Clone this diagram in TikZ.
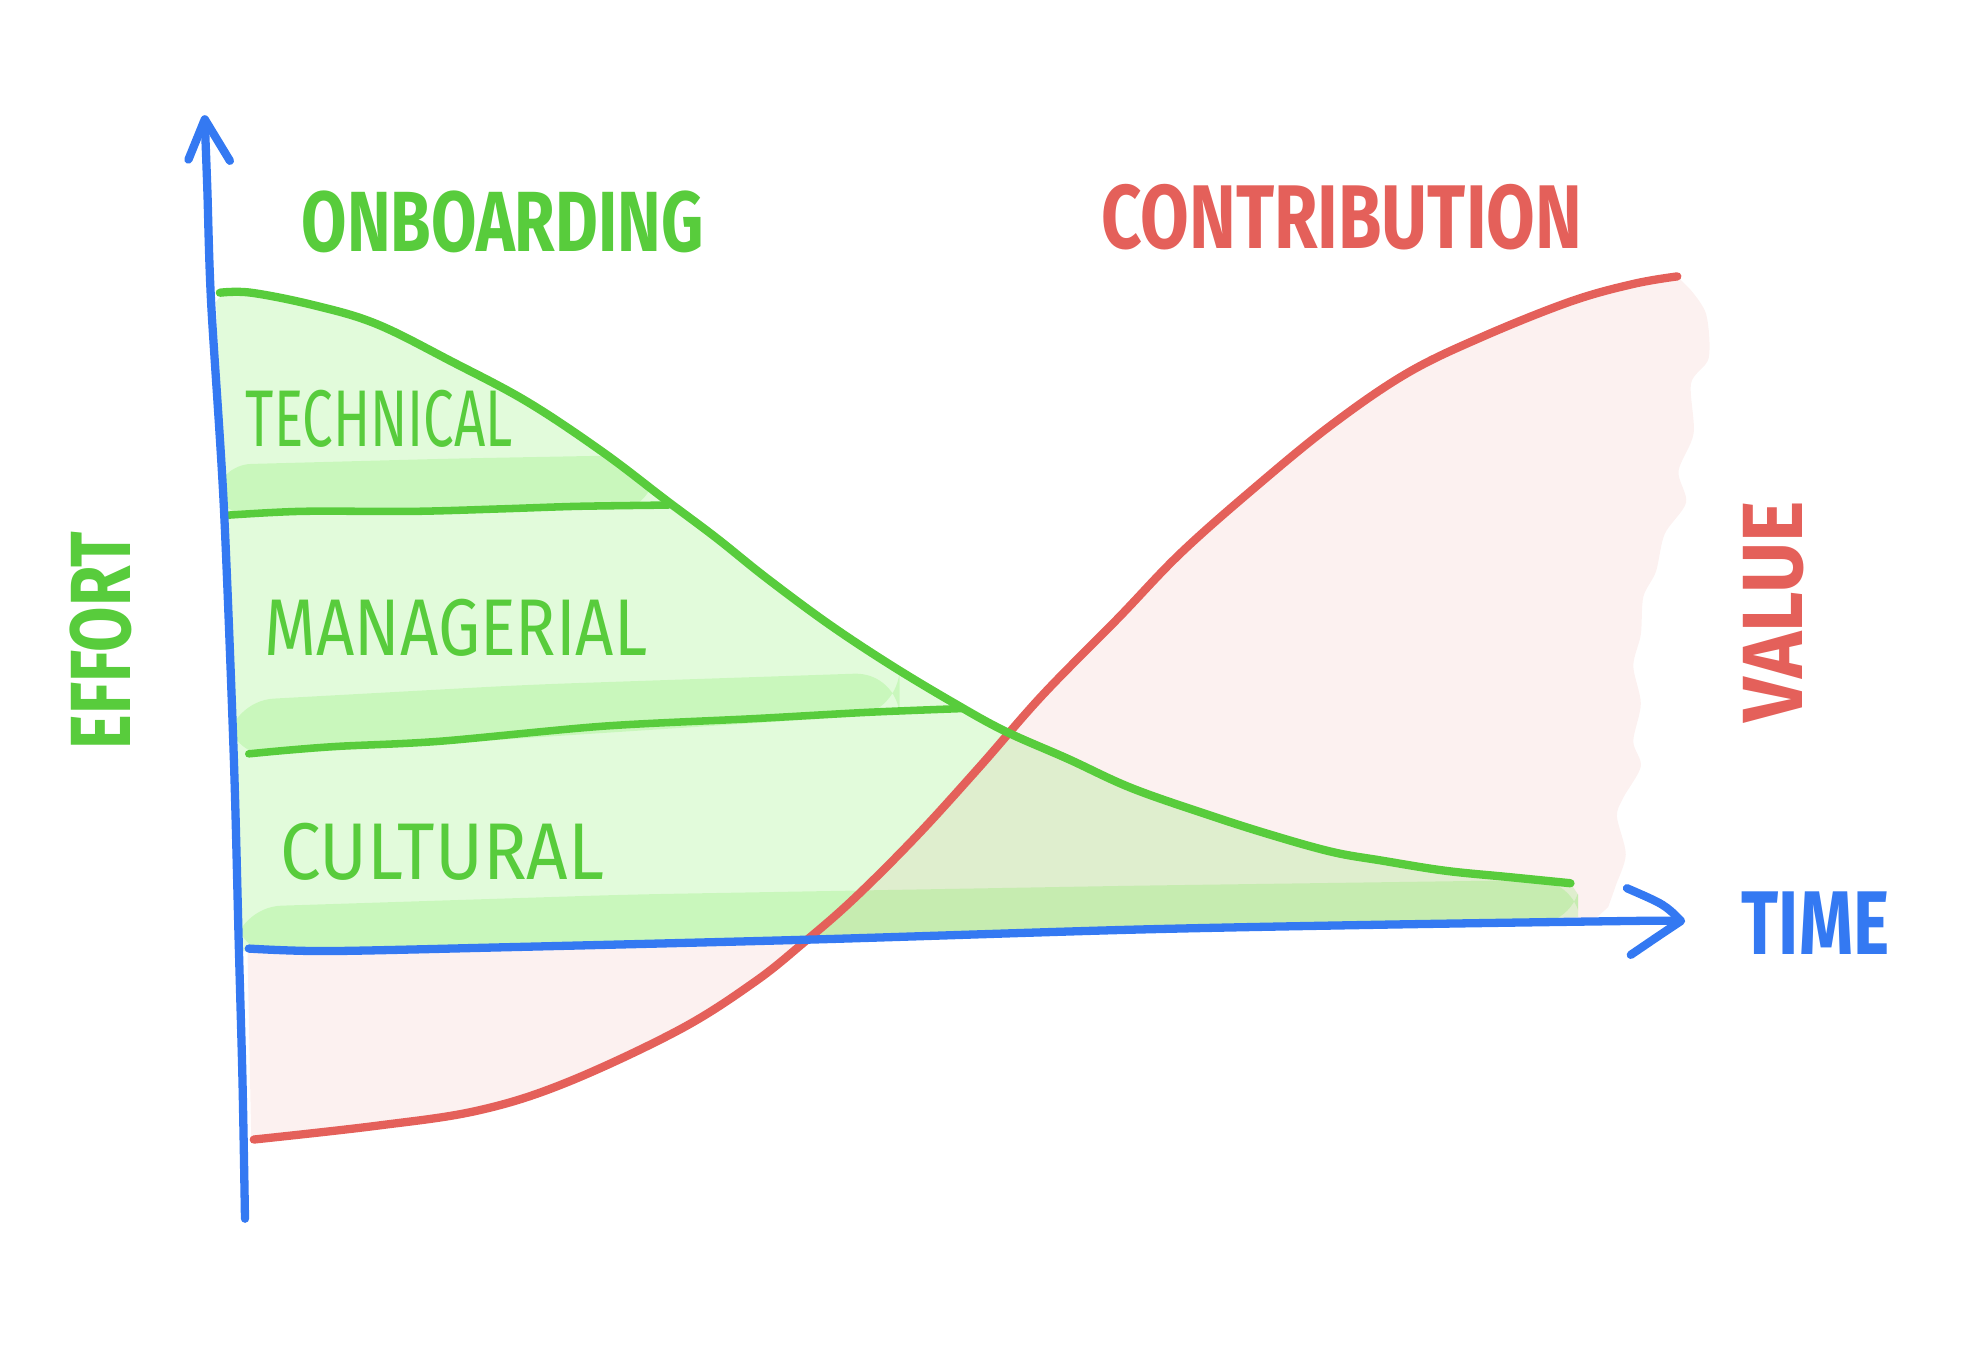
\documentclass[tikz,border=0pt]{standalone}
\usepackage{graphicx}
\usepackage{fontspec}
\setmainfont{Fira Sans}
\definecolor{effortgreen}{HTML}{58CC3C}
\definecolor{axisblue}{HTML}{3479F2}
\definecolor{valuered}{HTML}{E4605A}
\definecolor{greenwash}{RGB}{48,226,0}
\def\effortarea{(190,757) -- (172,240) -- plot[smooth, tension=0.6] coordinates {(178,233) (200,233) (250,243) (300,258) (360,288) (420,320) (480,360) (530,398) (570,428) (610,460) (660,497) (710,530) (760,560) (800,582) (850,604) (900,627) (960,648) (1010,664) (1060,678) (1100,685) (1150,693) (1200,698) (1250,703)} -- (1256,712) -- (1256,730) -- (1100,736) -- (900,740) -- (640,748) -- (400,754) -- (197,757) -- cycle}
\begin{document}
\begin{tikzpicture}[x=0.5pt, y=-0.5pt, line cap=round, line join=round,
  axis/.style={draw=axisblue, line width=3.3pt},
  curve/.style={line width=3.3pt},
  wash/.style={fill=greenwash, fill opacity=0.14},
  headline/.style={font=\bfseries\fontsize{34}{34}\selectfont, inner sep=0pt},
  layertext/.style={font=\fontsize{32}{32}\selectfont, text=effortgreen, inner sep=0pt}]
\useasboundingbox (0,0) rectangle (1568,1075);

% value area
\fill[valuered!9] (197,757) -- (200,908) -- plot[smooth, tension=0.6] coordinates {(202,907) (300,896) (380,884) (450,862) (540,820) (600,782) (640,750) (680,715) (730,665) (780,610) (830,553) (890,492) (940,440) (1000,387) (1060,338) (1120,297) (1180,268) (1250,240) (1300,226) (1335,220)}
  -- plot[smooth] coordinates {(1345,230) (1358,250) (1360,285) (1346,305) (1348,345) (1336,375) (1342,400) (1325,425) (1318,455) (1308,475) (1306,505) (1300,530) (1306,560) (1300,590) (1306,610) (1292,635) (1287,650) (1294,680) (1286,705) (1280,722)}
  -- (1270,731) -- (1100,736) -- (900,740) -- (640,748) -- (400,754) -- (197,757) -- cycle;

% effort area and bands
\fill[wash] \effortarea;
\begin{scope}
  \clip \effortarea;
  \fill[wash, rounded corners=14] (170,410) -- (172,370) -- (360,365) -- (520,362) -- (520,405) -- cycle;
  \fill[wash, rounded corners=18] (180,603) -- (182,558) -- (420,545) -- (716,535) -- (716,568) -- cycle;
  \fill[wash, rounded corners=18] (185,760) -- (188,722) -- (500,712) -- (900,705) -- (1258,700) -- (1258,735) -- cycle;
\end{scope}

% dividers
\draw[effortgreen, line width=3pt] plot[smooth] coordinates {(182,410) (240,407) (330,407) (400,405) (460,403) (532,402)};
\draw[effortgreen, line width=3pt] plot[smooth] coordinates {(198,600) (230,597) (270,594) (350,590) (480,578) (600,572) (690,567) (765,564)};

% contribution curve
\draw[curve, valuered] plot[smooth, tension=0.6] coordinates {(202,907) (300,896) (380,884) (450,862) (540,820) (600,782) (640,750) (680,715) (730,665) (780,610) (830,553) (890,492) (940,440) (1000,387) (1060,338) (1120,297) (1180,268) (1250,240) (1300,226) (1335,220)};

% onboarding curve
\draw[curve, effortgreen] plot[smooth, tension=0.6] coordinates {(175,233) (200,233) (250,243) (300,258) (360,288) (420,320) (480,360) (530,398) (570,428) (610,460) (660,497) (710,530) (760,560) (800,582) (850,604) (900,627) (960,648) (1010,664) (1060,678) (1100,685) (1150,693) (1200,698) (1250,703)};

% axes
\draw[axis] plot[smooth] coordinates {(195,970) (193,860) (190,750) (186,600) (178,400) (168,240) (165,150) (163,97)};
\draw[axis] (150,127) -- (163,95) -- (183,128);
\draw[axis] plot[smooth] coordinates {(198,755) (260,757) (400,754) (640,748) (900,740) (1100,736) (1300,733) (1335,733)};
\draw[axis] (1295,707) .. controls (1325,720) .. (1338,733) .. controls (1320,745) .. (1298,760);

% labels
\node[headline, text=effortgreen] (onboarding) at (400,177) {\scalebox{.77}[1]{ONBOARDING}};
\node[headline, text=valuered, font=\bfseries\fontsize{36}{36}\selectfont] (contribution) at (1068,173) {\scalebox{.78}[1]{CONTRIBUTION}};
\node[layertext] (technical) at (302,333) {\scalebox{.68}[1]{TECHNICAL}};
\node[layertext] (managerial) at (363,500) {\scalebox{.83}[1]{MANAGERIAL}};
\node[layertext] (cultural) at (352,678) {\scalebox{.9}[1]{CULTURAL}};
\node[headline, text=effortgreen, rotate=90] (effort) at (80,510) {\scalebox{.77}[1]{EFFORT}};
\node[headline, text=valuered, rotate=90] (value) at (1412,487) {\scalebox{.92}[1]{VALUE}};
\node[headline, text=axisblue, font=\bfseries\fontsize{36}{36}\selectfont] (time) at (1445,735) {\scalebox{.76}[1]{TIME}};
\end{tikzpicture}
\end{document}
